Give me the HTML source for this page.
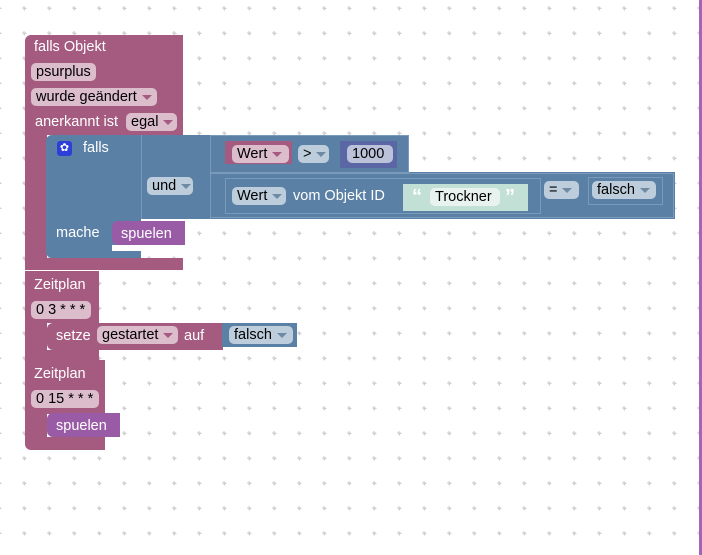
<!DOCTYPE html>
<html><head><meta charset="utf-8"><style>
*{margin:0;padding:0;box-sizing:border-box}
body{width:702px;height:555px;position:relative;overflow:hidden;background:#fff;font-family:"Liberation Sans",sans-serif;font-size:14.5px}
.a{position:absolute}
.pk{background:#a55b80}
.bl{background:#5b80a5;}
.pu{background:#995ba5}
.t{position:absolute;color:#fff;white-space:nowrap;line-height:16px}
.f{position:absolute;border-radius:5px;color:#000;white-space:nowrap;line-height:18px;padding-left:5px;height:18px}
.fp{background:#dbbdcc}
.fb{background:#bdcddb}
.dd::after{content:"";display:inline-block;margin-left:5px;border-left:5px solid transparent;border-right:5px solid transparent;border-top:5px solid #6f8aa5;vertical-align:middle}
.fp.dd::after{border-top-color:#a55b80}
.ol{position:absolute;border:1px solid #7a9abb}
.q{position:absolute;color:#fff;font-size:20px;font-weight:bold;line-height:20px}
</style></head><body>
<svg class="a" style="left:0;top:0" width="702" height="555">
<defs><pattern id="g" x="24" y="8" width="25" height="25" patternUnits="userSpaceOnUse"><path d="M-2 0H2M0 -2V2" stroke="#ccc" stroke-width="1" transform="translate(0.5,0.5)"/><path d="M23 0H27M25 -2V2M-2 25H2M0 23V27M23 25H27M25 23V27" stroke="#ccc" stroke-width="1"/></pattern></defs>
<rect width="702" height="555" fill="url(#g)"/>
<rect x="699" y="0" width="3" height="555" fill="#a564b8"/>
</svg>

<!-- main event block -->
<div class="a pk" style="left:25px;top:35px;width:158px;height:100px;border-radius:6px 0 0 0"></div>
<div class="a pk" style="left:25px;top:134px;width:22px;height:126px"></div>
<div class="a pk" style="left:25px;top:258px;width:158px;height:12px"></div>
<div class="t" style="left:34px;top:39px">falls Objekt</div>
<div class="f fp" style="left:31px;top:63px;width:65px">psurplus</div>
<div class="f fp dd" style="left:31px;top:88px;width:126px">wurde geändert</div>
<div class="t" style="left:35px;top:114px">anerkannt ist</div>
<div class="f fp dd" style="left:126px;top:113px;width:51px">egal</div>

<!-- if block -->
<div class="a bl" style="left:46px;top:135px;width:95px;height:123px;border-radius:6px 0 0 6px"></div>
<div class="a" style="left:112px;top:245px;width:30px;height:6px;background:#fff"></div>
<div class="a" style="left:57px;top:141px;width:15px;height:15px;background:#2e3fd8;border-radius:3px;color:#fff;font-size:11px;line-height:15px;text-align:center">✿</div>
<div class="t" style="left:83px;top:140px">falls</div>
<div class="t" style="left:56px;top:225px">mache</div>
<div class="a pu" style="left:112px;top:221px;width:73px;height:24px;border-radius:6px 0 0 6px"></div>
<div class="t" style="left:121px;top:226px">spuelen</div>

<!-- and block -->
<div class="a bl" style="left:141px;top:135px;width:268px;height:38px"></div>
<div class="a bl" style="left:141px;top:172px;width:534px;height:47px"></div>
<div class="a" style="left:141px;top:135px;width:1px;height:84px;background:#7a9abb"></div>
<div class="a" style="left:210px;top:135px;width:1px;height:84px;background:#7a9abb"></div>
<div class="f fb dd" style="left:147px;top:177px;width:46px">und</div>

<!-- compare 1 -->
<div class="ol" style="left:210px;top:135px;width:199px;height:38px"></div>
<div class="a pk" style="left:225px;top:141px;width:67px;height:23px"></div>
<div class="f fp dd" style="left:232px;top:145px;width:57px">Wert</div>
<div class="f fb dd" style="left:298px;top:145px;width:31px">&gt;</div>
<div class="a" style="left:340px;top:141px;width:57px;height:27px;background:#5b67a5"></div>
<div class="f" style="left:347px;top:145px;width:46px;background:#bdc2db">1000</div>

<!-- compare 2 -->
<div class="ol" style="left:210px;top:173px;width:464px;height:45px"></div>
<div class="ol" style="left:225px;top:178px;width:316px;height:36px"></div>
<div class="f fb dd" style="left:232px;top:187px;width:54px">Wert</div>
<div class="t" style="left:293px;top:188px">vom Objekt ID</div>
<div class="a" style="left:403px;top:184px;width:125px;height:27px;background:#c3e0d6"></div>
<div class="q" style="left:412px;top:187px">“</div>
<div class="f" style="left:430px;top:188px;width:70px;background:#e8f3ef">Trockner</div>
<div class="q" style="left:505px;top:187px">”</div>
<div class="f fb dd" style="left:544px;top:181px;width:35px">=</div>
<div class="ol" style="left:588px;top:177px;width:75px;height:28px"></div>
<div class="f fb dd" style="left:592px;top:181px;width:64px">falsch</div>

<!-- Zeitplan 1 -->
<div class="a pk" style="left:25px;top:271px;width:74px;height:52px"></div>
<div class="a pk" style="left:25px;top:322px;width:22px;height:30px"></div>
<div class="a pk" style="left:25px;top:350px;width:74px;height:10px"></div>
<div class="t" style="left:34px;top:277px">Zeitplan</div>
<div class="f fp" style="left:31px;top:301px;width:60px">0 3 * * *</div>
<div class="a pk" style="left:47px;top:323px;width:176px;height:27px;border-radius:6px 0 0 6px"></div>
<div class="t" style="left:56px;top:328px">setze</div>
<div class="f fp dd" style="left:97px;top:326px;width:81px">gestartet</div>
<div class="t" style="left:184px;top:328px">auf</div>
<div class="a bl" style="left:222px;top:323px;width:75px;height:24px"></div>
<div class="f fb dd" style="left:229px;top:326px;width:64px">falsch</div>

<!-- Zeitplan 2 -->
<div class="a pk" style="left:25px;top:360px;width:80px;height:54px"></div>
<div class="a pk" style="left:25px;top:412px;width:22px;height:28px"></div>
<div class="a pk" style="left:25px;top:437px;width:80px;height:13px;border-radius:0 0 0 6px"></div>
<div class="t" style="left:34px;top:366px">Zeitplan</div>
<div class="f fp" style="left:31px;top:390px;width:68px">0 15 * * *</div>
<div class="a pu" style="left:47px;top:413px;width:73px;height:24px;border-radius:6px 0 0 6px"></div>
<div class="t" style="left:56px;top:418px">spuelen</div>
</body></html>
